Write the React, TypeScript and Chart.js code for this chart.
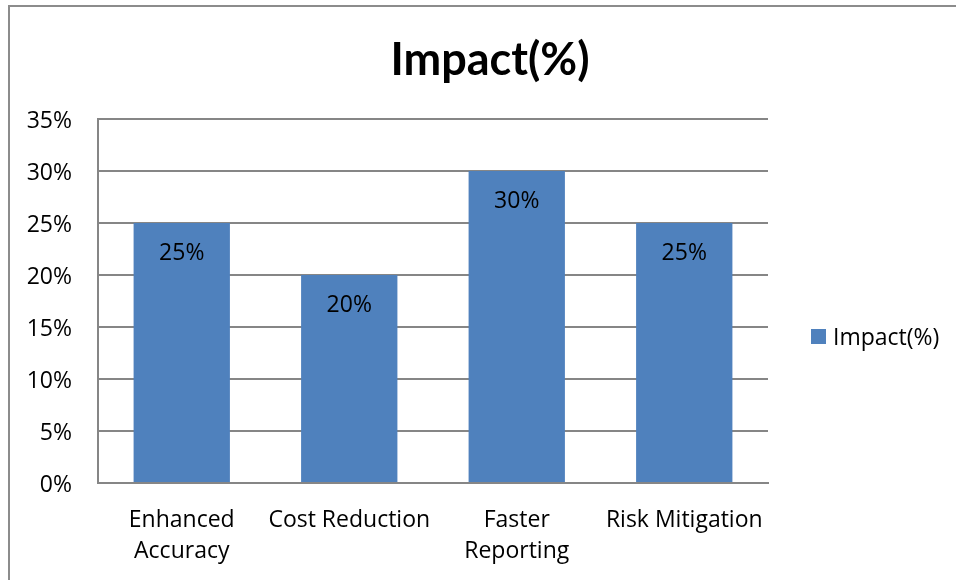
import React, { useEffect, useRef } from "react";
import { Chart, registerables } from "chart.js";

Chart.register(...registerables);

const categories: (string | string[])[] = [
  ["Enhanced", "Accuracy"],
  "Cost Reduction",
  ["Faster", "Reporting"],
  "Risk Mitigation",
];
const seriesName = "Impact(%)";
const chartTitle = "Impact(%)";
const impactValues = [25, 20, 30, 25];
const yTickStep = 5;
const yMax = 35;

const FONT = "'Open Sans', Lato, sans-serif";
const TITLE_FONT = "Lato, 'Open Sans', sans-serif";
const BAR_COLOR = "#4F81BD";
const GRID_COLOR = "#868686";

const borderPlugin = {
  id: "outerBorder",
  beforeDraw(chart: any) {
    const ctx = chart.ctx;
    ctx.save();
    ctx.fillStyle = "#ffffff";
    ctx.fillRect(0, 0, chart.width, chart.height);
    ctx.strokeStyle = "#8c8c8c";
    ctx.lineWidth = 2;
    ctx.strokeRect(9, 6, chart.width + 20, chart.height + 20);
    ctx.restore();
  },
};

const titlePlugin = {
  id: "centeredTitle",
  afterDraw(chart: any) {
    const ctx = chart.ctx;
    ctx.save();
    ctx.font = `bold 45px ${TITLE_FONT}`;
    ctx.fillStyle = "#000";
    ctx.textAlign = "center";
    ctx.textBaseline = "middle";
    ctx.fillText(chartTitle, 490, 60);
    ctx.restore();
  },
};

const valueLabelPlugin = {
  id: "valueLabels",
  afterDatasetsDraw(chart: any) {
    const ctx = chart.ctx;
    ctx.save();
    ctx.font = `23px ${FONT}`;
    ctx.fillStyle = "#000";
    ctx.textAlign = "center";
    ctx.textBaseline = "middle";
    chart.data.datasets.forEach((ds: any, di: number) => {
      const meta = chart.getDatasetMeta(di);
      meta.data.forEach((el: any, i: number) => {
        ctx.fillText(`${ds.data[i]}%`, el.x, el.y + 30);
      });
    });
    ctx.restore();
  },
};

const legendPlugin = {
  id: "customLegend",
  afterDraw(chart: any) {
    const ctx = chart.ctx;
    const ds = chart.data.datasets[0];
    ctx.save();
    ctx.fillStyle = ds.backgroundColor;
    ctx.fillRect(811, 329, 15, 15);
    ctx.font = `23px ${FONT}`;
    ctx.fillStyle = "#000";
    ctx.textAlign = "left";
    ctx.textBaseline = "middle";
    ctx.fillText(ds.label, 833, 338);
    ctx.restore();
  },
};

export default function App() {
  const ref = useRef<HTMLCanvasElement | null>(null);
  useEffect(() => {
    document.body.style.margin = "0";
    const chart = new Chart(ref.current as HTMLCanvasElement, {
      type: "bar",
      data: {
        labels: categories,
        datasets: [
          {
            label: seriesName,
            data: impactValues,
            backgroundColor: BAR_COLOR,
            borderWidth: 0,
            categoryPercentage: 1,
            barPercentage: 0.575,
          },
        ],
      },
      options: {
        animation: false,
        responsive: false,
        layout: { padding: { top: 119, left: 0, right: 188, bottom: 0 } },
        plugins: {
          legend: { display: false },
          tooltip: { enabled: false },
          title: { display: false },
        },
        scales: {
          x: {
            grid: { display: false, drawTicks: false },
            border: { display: true, color: GRID_COLOR, width: 2 },
            ticks: {
              color: "#000",
              font: { family: FONT, size: 23, lineHeight: 1.36 },
              padding: 22,
              maxRotation: 0,
              autoSkip: false,
            },
            afterFit(scale: any) {
              scale.height = 97;
            },
          },
          y: {
            min: 0,
            max: yMax,
            grid: { color: GRID_COLOR, lineWidth: 2, drawTicks: false },
            border: { display: true, color: GRID_COLOR, width: 2 },
            ticks: {
              stepSize: yTickStep,
              color: "#000",
              font: { family: FONT, size: 23 },
              padding: 26,
              labelOffset: 2,
              callback: (v: any) => `${v}%`,
            },
            afterFit(scale: any) {
              scale.width = 98;
            },
          },
        },
      },
      plugins: [borderPlugin, valueLabelPlugin, legendPlugin, titlePlugin],
    });
    return () => chart.destroy();
  }, []);
  return (
    <div style={{ width: 956, height: 580 }}>
      <canvas ref={ref} width={956} height={580} style={{ display: "block" }} />
    </div>
  );
}
